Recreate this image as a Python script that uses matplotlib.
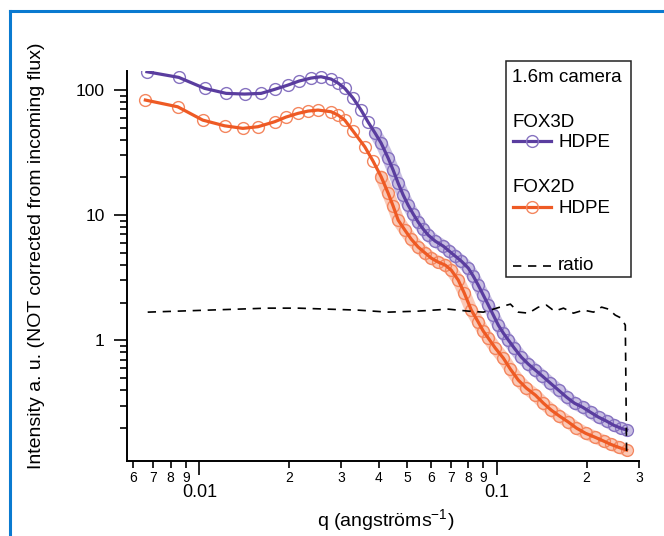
import matplotlib
matplotlib.use("Agg")
import matplotlib.pyplot as plt
import matplotlib.ticker as mticker
from matplotlib.lines import Line2D
from matplotlib.patches import Rectangle
import numpy as np

plt.rcParams['font.family'] = ['Liberation Sans', 'DejaVu Sans']
plt.rcParams['mathtext.default'] = 'regular'

# FOX3D HDPE (purple)
q_3d = [0.00666, 0.00852, 0.01040, 0.01229, 0.01418, 0.01612, 0.01789, 0.01983,
        0.02160, 0.02370, 0.02561, 0.02768, 0.02922, 0.03078, 0.03282, 0.03492,
        0.03687, 0.03892, 0.04078, 0.04305, 0.04476, 0.04653, 0.04836, 0.05028,
        0.05227, 0.05433, 0.05648, 0.05871, 0.06199, 0.06595, 0.06909, 0.07237,
        0.07582, 0.08005, 0.08321, 0.08650, 0.08992, 0.09347, 0.09717, 0.1010,
        0.1050, 0.1092, 0.1143, 0.1207, 0.1274, 0.1346, 0.1421, 0.1511,
        0.1609, 0.1712, 0.1821, 0.1938, 0.2061, 0.2193, 0.2334, 0.2464,
        0.2601, 0.2725]
i_3d = [140.1, 126.3, 103.2, 94.1, 92.9, 94.1, 101.3, 109.6,
        118.0, 124.7, 127.8, 122.5, 113.8, 103.2, 86.3, 69.2,
        55.5, 45.3, 37.7, 28.6, 22.9, 18.0, 14.5, 12.0,
        10.2, 8.79, 7.73, 6.92, 6.19, 5.65, 5.15, 4.70,
        4.29, 3.77, 3.25, 2.75, 2.29, 1.91, 1.585, 1.318,
        1.138, 1.0, 0.863, 0.731, 0.643, 0.575, 0.515, 0.453,
        0.398, 0.350, 0.313, 0.291, 0.265, 0.242, 0.225, 0.209,
        0.198, 0.191]

# FOX2D HDPE (orange)
q_2d = [0.00658, 0.00845, 0.01026, 0.01214, 0.01399, 0.01572, 0.01789, 0.01953,
        0.02143, 0.02316, 0.02503, 0.02768, 0.02922, 0.03078, 0.03282, 0.03594,
        0.03832, 0.04078, 0.04305, 0.04476, 0.04653, 0.04900, 0.05146, 0.05433,
        0.05736, 0.06009, 0.06345, 0.06698, 0.07017, 0.07408, 0.07760, 0.08193,
        0.08650, 0.08992, 0.09347, 0.09869, 0.1050, 0.1109, 0.1179, 0.1255,
        0.1346, 0.1432, 0.1523, 0.1621, 0.1738, 0.1849, 0.1983, 0.2126,
        0.2280, 0.2407, 0.2561, 0.2725]
i_2d = [83.2, 73.5, 57.5, 51.8, 49.4, 50.9, 55.8, 60.8,
        65.1, 67.9, 69.2, 67.1, 63.1, 57.5, 47.0, 35.2,
        27.0, 20.3, 15.0, 11.8, 9.12, 7.59, 6.43, 5.55,
        4.97, 4.53, 4.21, 3.98, 3.63, 3.02, 2.38, 1.74,
        1.393, 1.180, 1.038, 0.863, 0.718, 0.586, 0.479, 0.413,
        0.363, 0.313, 0.275, 0.247, 0.221, 0.198, 0.180, 0.168,
        0.156, 0.147, 0.139, 0.132]

# ratio (dashed)
q_ratio = [0.00670, 0.00845, 0.01067, 0.01346, 0.01698, 0.02143, 0.02704, 0.03412,
           0.04305, 0.05433, 0.06855, 0.08005, 0.08992, 0.09716, 0.1050, 0.1109,
           0.1179, 0.1275, 0.1377, 0.1466, 0.1559, 0.1672, 0.1806, 0.1953,
           0.2110, 0.2245, 0.2370, 0.2496, 0.2615, 0.2698, 0.2725]
ratio = [1.675, 1.706, 1.738, 1.770, 1.803, 1.803, 1.770, 1.738,
         1.675, 1.706, 1.770, 1.706, 1.675, 1.770, 1.871, 1.941,
         1.675, 1.644, 1.837, 1.905, 1.706, 1.803, 1.644, 1.738,
         1.675, 1.837, 1.770, 1.585, 1.500, 1.318, 0.120]

purple = '#5a3d9f'
purple_light = '#8672c0'
orange = '#ee5a24'
orange_light = '#f4865e'

# points from here on sit so close together in the original that the rings merge
DENSE_FROM = 18

fig = plt.figure(figsize=(6.64, 5.36), dpi=100)
ax = fig.add_axes([0.1913, 0.1399, 0.7711, 0.7276])

for q, i, c, cl in [(q_3d, i_3d, purple, purple_light), (q_2d, i_2d, orange, orange_light)]:
    ax.plot(q[DENSE_FROM - 1:], i[DENSE_FROM - 1:], color=cl, lw=9, alpha=0.45,
            solid_capstyle='round', solid_joinstyle='round')
    ax.plot(q, i, linestyle='none', marker='o', markersize=8.5, markerfacecolor='none',
            markeredgecolor=cl, markeredgewidth=1.0)
    ax.plot(q, i, color=c, lw=2.3)

ax.plot(q_ratio, ratio, color='black', lw=1.2, linestyle=(0, (5, 4)))

ax.set_xscale('log')
ax.set_yscale('log')
ax.set_xlim(0.00571, 0.3)
ax.set_ylim(0.108, 142)

for s in ['top', 'right']:
    ax.spines[s].set_visible(False)
for s in ['left', 'bottom']:
    ax.spines[s].set_linewidth(1.4)

ax.xaxis.set_major_locator(mticker.LogLocator(base=10, numticks=20))
ax.xaxis.set_minor_locator(mticker.LogLocator(base=10, subs=np.arange(2, 10), numticks=20))
ax.xaxis.set_major_formatter(mticker.FuncFormatter(lambda v, p: f"{v:g}"))
ax.xaxis.set_minor_formatter(mticker.FuncFormatter(
    lambda v, p: str(int(round(v / 10 ** np.floor(np.log10(v) + 1e-9))))))
ax.yaxis.set_major_locator(mticker.LogLocator(base=10, numticks=20))
ax.yaxis.set_minor_locator(mticker.LogLocator(base=10, subs=np.arange(2, 10), numticks=20))
ax.yaxis.set_major_formatter(mticker.FuncFormatter(lambda v, p: f"{v:g}"))
ax.yaxis.set_minor_formatter(mticker.NullFormatter())

ax.tick_params(axis='x', which='major', length=10, width=1.2, pad=6.5, labelsize=13)
ax.tick_params(axis='x', which='minor', length=5, width=1.2, pad=2.5, labelsize=10)
ax.tick_params(axis='y', which='major', length=9.5, width=1.2, pad=6.5, labelsize=12.5)
ax.tick_params(axis='y', which='minor', length=5, width=1.2)

fig.text(37 / 664, 1 - 255.5 / 536, "Intensity a. u. (NOT corrected from incoming flux)",
         rotation=90, ha='center', va='center', fontsize=14)
fig.text(386 / 664, 1 - 520 / 536, "q (angströms$^{-1}$)", ha='center', va='center', fontsize=14)

# legend box
W, H = 664.0, 536.0
def fx(x):
    return x / W
def fy(y):
    return 1 - y / H

fig.add_artist(Rectangle((fx(506), fy(277)), 125 / W, 216 / H, transform=fig.transFigure,
                         facecolor='white', edgecolor='#222222', lw=1.1))
fig.text(fx(512), fy(82.3), "1.6m camera", fontsize=13.5, va='baseline')
fig.text(fx(512.7), fy(127.3), "FOX3D", fontsize=13.5, va='baseline')
fig.text(fx(559), fy(147.3), "HDPE", fontsize=13.5, va='baseline')
fig.text(fx(512.7), fy(191.7), "FOX2D", fontsize=13.5, va='baseline')
fig.text(fx(559), fy(213.3), "HDPE", fontsize=13.5, va='baseline')
fig.text(fx(558), fy(270), "ratio", fontsize=13.5, va='baseline')
for yy, c, cl in [(140.7, purple, purple_light), (206.5, orange, orange_light)]:
    fig.add_artist(Line2D([fx(512.7), fx(551)], [fy(yy), fy(yy)], color=c, lw=2.3,
                          transform=fig.transFigure))
    fig.add_artist(Line2D([fx(531.7)], [fy(yy)], marker='o', markersize=8.5,
                          markerfacecolor='none', markeredgecolor=cl, markeredgewidth=1.0,
                          transform=fig.transFigure))
fig.add_artist(Line2D([fx(512.7), fx(551)], [fy(265.7), fy(265.7)], color='black', lw=1.2,
                      linestyle=(0, (5, 4)), transform=fig.transFigure))

# blue frame (top and left edges visible)
frame = '#0a7ad0'
fig.add_artist(Line2D([fx(10), 1.0], [fy(11), fy(11)], color=frame, lw=2.2, transform=fig.transFigure))
fig.add_artist(Line2D([fx(10), fx(10)], [fy(11), 0.0], color=frame, lw=2.2, transform=fig.transFigure))

fig.savefig("out.png", dpi=100)
